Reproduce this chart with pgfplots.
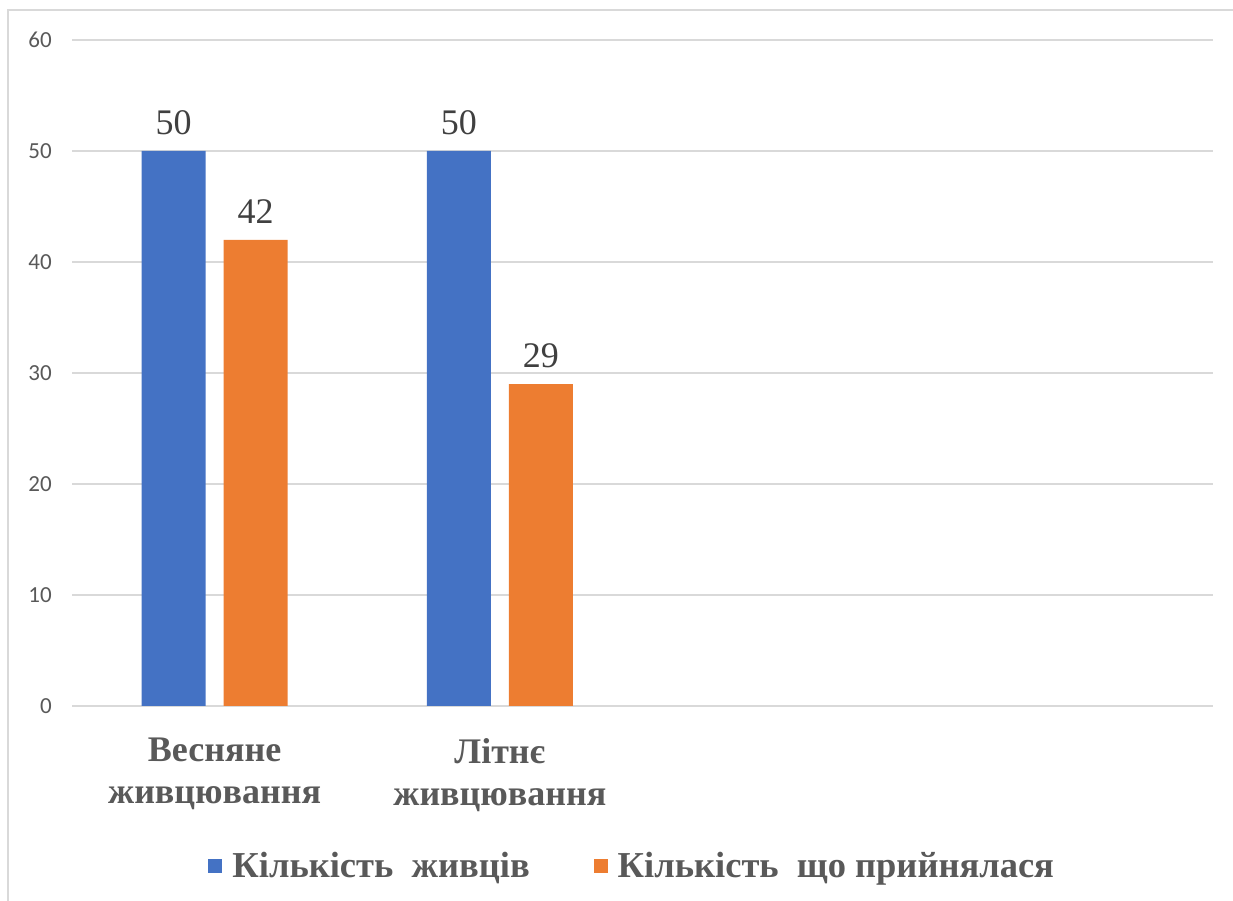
\documentclass[border=0pt]{standalone}
\usepackage{fontspec}
\setmainfont{Liberation Serif}
\newfontfamily\calibri{Carlito}
\usepackage{pgfplots}
\pgfplotsset{compat=1.18}
\definecolor{cblue}{HTML}{4472C4}
\definecolor{corange}{HTML}{ED7D31}
\definecolor{tgray}{HTML}{595959}
\definecolor{dgray}{HTML}{404040}
\definecolor{gridgray}{HTML}{D9D9D9}
\begin{document}
\begin{tikzpicture}
\path[use as bounding box] (0,0) rectangle (1233bp,901bp);
\draw[gridgray, line width=1.5bp] (8bp,-5bp) -- (8bp,891bp) -- (1240bp,891bp);
\begin{axis}[
  at={(72bp,195bp)}, anchor=south west,
  scale only axis, width=1141bp, height=666bp,
  ybar=18bp, bar width=64bp,
  xmin=-0.5, xmax=3.5, ymin=0, ymax=60,
  xtick={0,1},
  xticklabels={{Весняне\\живцювання},{Літнє\\живцювання}},
  ytick={0,10,...,60},
  ymajorgrids, grid style={gridgray, line width=1.3bp},
  axis line style={draw=none},
  major tick length=0pt,
  /pgf/number format/assume math mode=true,
  yticklabel style={font=\calibri\fontsize{23bp}{27bp}\selectfont, text=tgray, inner sep=0pt, xshift=-20bp},
  xticklabel style={font=\bfseries\fontsize{36bp}{42bp}\selectfont, text=tgray, align=center, inner sep=0pt, yshift=-32bp},
  nodes near coords,
  nodes near coords style={font=\fontsize{36bp}{41bp}\selectfont, text=dgray, inner sep=0pt, anchor=south, yshift=16bp},
  legend style={draw=none, fill=none, at={(0.491,-0.24)}, anchor=center,
    font=\bfseries\fontsize{36.5bp}{42bp}\selectfont, text=tgray,
    /tikz/every even column/.style={column sep=62bp}},
  legend columns=2,
  legend cell align=left,
]
\addplot[fill=cblue, draw=none, legend image code/.code={\fill[cblue] (0bp,-7bp) rectangle (14bp,7bp); \path (22bp,0bp);}] coordinates {(0,50) (1,50)};
\addplot[fill=corange, draw=none, legend image code/.code={\fill[corange] (0bp,-7bp) rectangle (14bp,7bp); \path (22bp,0bp);}] coordinates {(0,42) (1,29)};
\legend{Кількість\ \ живців, Кількість\ \ що прийнялася}
\end{axis}
\end{tikzpicture}
\end{document}
